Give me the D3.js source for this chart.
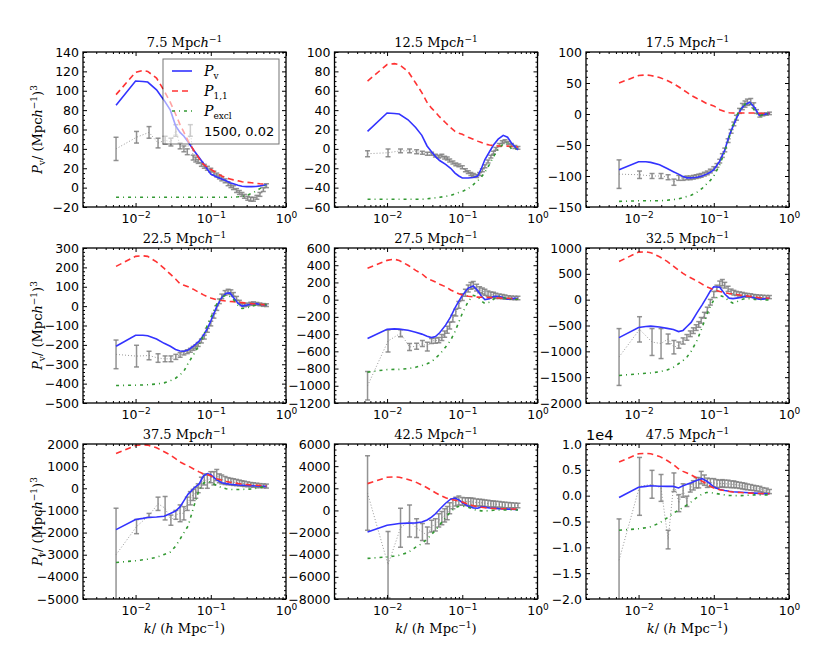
<!DOCTYPE html>
<html><head><meta charset="utf-8">
<script src="https://cdn.jsdelivr.net/npm/d3@7"></script>
<style>body{margin:0;background:#fff}svg{display:block}</style>
</head><body>
<svg id="chart" width="830" height="648"></svg>
<script>
// ---------------- data ----------------
const panelTitles = ["7.5", "12.5", "17.5", "22.5", "27.5", "32.5", "37.5", "42.5", "47.5"];
const xDomain = [0.002, 1];
const xMajorTicks = [0.01, 0.1, 1];
const xTickExponents = ["\u22122", "\u22121", "0"];
const yDomains = [[-20,140],[-60,100],[-150,100],[-500,300],[-1200,600],[-2000,1000],[-5000,2000],[-8000,6000],[-20000,10000]];
const yTicks = [
  [-20,0,20,40,60,80,100,120,140],
  [-60,-40,-20,0,20,40,60,80,100],
  [-150,-100,-50,0,50,100],
  [-500,-400,-300,-200,-100,0,100,200,300],
  [-1200,-1000,-800,-600,-400,-200,0,200,400,600],
  [-2000,-1500,-1000,-500,0,500,1000],
  [-5000,-4000,-3000,-2000,-1000,0,1000,2000],
  [-8000,-6000,-4000,-2000,0,2000,4000,6000],
  [-20000,-15000,-10000,-5000,0,5000,10000]
];
const yMinorDivs = [4,4,5,5,4,5,5,4,5];

const kModel = [0.0055,0.01,0.0125,0.0145,0.019,0.024,0.029,0.034,0.039,0.044,0.05,0.06,0.07,0.08,0.09,0.1,0.12,0.14,0.16,0.18,0.2,0.23,0.26,0.3,0.35,0.4,0.45,0.55];

const pvValues = [
  [85,110,109.5,109,101,90,80,64,57,53,47,38,31,25,19,14,11,9,7,5,4,2.5,1.5,1,1,1.2,1.8,3],
  [18,37,36.5,36,30,22,14,3,-3,-8,-12,-16,-20,-25,-28,-30,-30,-29.5,-28,-20,-11,-3,4,10,14,12,6,-1],
  [-90,-77,-77,-78,-82,-88,-93,-97,-101,-103,-103,-102,-100,-97,-94,-90,-76,-58,-35,-20,-7,8,15,19,10,-2,-1,1],
  [-207,-150,-150,-153,-170,-192,-207,-224,-232,-233,-226,-204,-181,-150,-116,-77,-3,45,66,68,45,15,0,5,12,13,8,5],
  [-452,-343,-339,-342,-355,-378,-400,-425,-440,-428,-385,-296,-199,-95,-18,48,135,158,105,40,0,12,35,40,25,5,12,16],
  [-734,-539,-520,-513,-530,-555,-578,-618,-595,-520,-440,-250,-100,40,167,250,240,110,30,20,30,45,65,60,30,10,10,26],
  [-1867,-1408,-1360,-1316,-1295,-1260,-1140,-1026,-840,-560,-263,14,200,560,665,610,380,250,210,180,165,150,140,125,115,105,95,85],
  [-1948,-1337,-1250,-1184,-1150,-1123,-1050,-860,-605,-300,100,650,1010,1105,956,710,380,230,200,320,300,220,190,160,140,120,100,60],
  [-350,1620,1800,1920,1820,1800,1800,1500,1900,2200,2500,3000,3300,2830,2300,1680,1200,1000,850,750,700,650,600,550,500,450,400,370]
];
const p11Values = [
  [96,119,121,120,113,100,88,76,65,57,48,38,30,24,21,19,15,12,10,9,8,7,6,5.5,5,4.5,4,3.5],
  [70,87,88,87,80,68,58,48,42,38,33,27,22,18,16,15,12,10,8,6.5,5,4,3.5,3,3,2.8,2.5,2],
  [50,62,63,62,59,54,49,44,39,35,30,25,21,17,15,13,7,4,2,1.5,1.5,1.5,1.5,1.5,1.5,1,1,1],
  [205,257,260,257,228,195,165,140,115,108,100,85,70,58,49,42,33,29,26,24,23,20,18,15,13,11,9,6],
  [366,456,470,455,400,340,300,250,225,205,180,150,113,90,68,55,40,33,30,28,27,25,23,20,18,16,13,8],
  [740,920,925,910,830,740,650,570,510,460,420,360,300,250,220,190,160,135,120,110,100,85,75,65,50,40,35,26],
  [1570,1930,1965,1950,1830,1650,1500,1340,1190,1100,1010,860,740,650,620,560,430,360,310,270,250,215,190,170,150,135,125,110],
  [2420,2990,3030,3000,2800,2560,2300,2050,1800,1600,1400,1150,1000,920,860,760,560,420,340,280,240,210,180,160,150,140,130,120],
  [6500,8100,8200,8100,7600,6800,6000,5200,4700,4400,4000,3400,2800,2300,1800,1500,1150,950,800,700,650,600,550,500,450,420,400,370]
];
const pexclValues = [
  [-10,-10,-10,-10,-10,-10,-10,-10,-10,-10,-10,-10,-10,-10,-10,-10,-10,-10,-10,-10,-9.8,-9.5,-9,-8,-6,-3.5,-1,3],
  [-52,-52,-52,-52,-52,-52,-52,-51.5,-51,-50.5,-50,-49,-48,-46.5,-45,-44,-41,-37,-33,-29,-24,-16,-8,0,5,6,0,0],
  [-141,-140,-140,-140,-140,-139,-138,-137,-135,-133,-131,-126,-120,-113,-107,-100,-82,-60,-38,-18,-3,10,16,17,5,-4,-1,1],
  [-410,-408,-407,-406,-402,-396,-385,-372,-355,-335,-295,-245,-200,-152,-98,-59,12,45,57,50,34,5,-12,-10,0,5,7,8],
  [-841,-812,-810,-810,-800,-785,-765,-745,-720,-680,-635,-550,-471,-370,-260,-160,-20,50,36,-15,-45,-30,5,40,25,10,5,4],
  [-1468,-1435,-1425,-1418,-1395,-1360,-1310,-1240,-1180,-1110,-1000,-786,-540,-300,-130,-6,80,50,-30,-65,-45,0,20,20,5,0,-3,-6],
  [-3349,-3273,-3230,-3200,-3120,-2990,-2880,-2620,-2300,-2000,-1700,-780,-60,230,318,270,120,30,-20,-50,-60,-55,-50,-40,-30,0,40,90],
  [-4333,-4200,-4120,-4050,-3800,-3320,-2990,-2600,-2160,-1800,-1300,-634,-115,230,370,390,290,100,0,-40,-50,-20,20,40,40,40,40,40],
  [-6700,-6400,-6200,-6000,-5300,-4300,-3400,-2800,-2300,-1800,-1200,-300,300,600,600,500,300,150,50,0,0,0,50,100,150,150,150,150]
];

const kData = [0.0055,0.0103,0.0151,0.0199,0.0247,0.0295,0.0343,0.0391,0.0439,0.0487,0.0535,0.0583,0.0631,0.068,0.075,0.082,0.09,0.1,0.11,0.12,0.13,0.14,0.155,0.17,0.185,0.2,0.22,0.24,0.26,0.28,0.31,0.34,0.37,0.41,0.45,0.5,0.55];
const dataValues = [
  [40,52,57,46,49,47,59,43,40,37,59,31,29,27,24,22,20,18,15,13,11,9,7,4,2,0,-3,-5,-7,-9,-11,-12,-12,-10,-7,-2,2],
  [-5,-4,-2,-2,-3,-4,-5,-5,-7,-8,-7,-9,-10,-12,-14,-16,-17,-19,-22,-24,-26,-27,-28,-26,-22,-18,-13,-8,-4,0,4,7,8,6,4,2,1],
  [-97,-98,-100,-100,-102,-110,-103,-104,-103,-103,-102,-101,-100,-99,-97,-95,-92,-88,-83,-76,-67,-58,-43,-28,-16,-6,5,12,16,19,20,14,4,-2,-1,0,1],
  [-249,-258,-255,-268,-272,-272,-262,-252,-242,-235,-228,-218,-210,-198,-180,-160,-125,-90,-50,-10,25,50,68,75,72,60,40,22,10,5,8,12,14,12,9,6,5],
  [-1000,-480,-390,-550,-540,-510,-545,-480,-475,-470,-440,-400,-350,-300,-220,-150,-60,30,80,130,160,170,140,115,100,85,70,60,55,45,40,35,30,25,22,20,20],
  [-1110,-575,-820,-850,-760,-920,-880,-800,-730,-660,-600,-540,-480,-400,-300,-200,-50,100,220,300,330,280,210,160,135,120,110,100,90,85,80,70,65,60,55,50,50],
  [-3000,-1730,-1225,-700,-900,-1440,-1200,-1130,-1130,-700,-450,-300,-200,0,250,400,300,500,450,600,450,400,350,320,300,280,260,240,220,200,180,160,150,130,120,110,100],
  [1570,-4900,-1570,-950,-1600,-1950,-2250,-1415,-1300,-900,-700,-450,-250,200,600,800,900,820,800,800,780,750,720,700,680,650,620,600,580,560,540,520,500,480,470,460,450],
  [-12500,1800,2200,1500,-8500,2600,-1450,1000,-1100,1500,2000,2500,2500,3500,3000,2500,2500,2500,2300,2300,2400,2300,2300,2200,2200,2100,2000,1900,1800,1700,1600,1500,1400,1300,1100,1000,800]
];
const dataErrors = [
  [12,6,6,5,4,4,6,3,3,3,6,2.5,2.5,2,2,2,2,2,2,2,2,2,2,2,2,2,2,2,2,2,2,2,2,2,2,2,2],
  [3,4,2,2,2,1.5,1.5,1.5,1.5,1.5,1.5,1.5,1.5,1.5,1.5,1.5,1.5,1.5,1.5,1.5,1.5,1.5,1.5,1.5,1.5,1.5,1.5,1.5,1.5,1.5,1.5,1.5,1.5,1.5,1.5,1.5,1.5],
  [23,6,4,4,4,5,4,3,3,3,3,3,3,3,3,3,3,3,3,3,3,3,3,3,3,4,4,5,5,5,5,4,3,3,2,2,2],
  [74,56,22,22,15,15,13,12,10,10,10,10,10,10,10,10,10,12,12,12,12,12,12,12,12,10,10,8,8,8,8,8,8,7,7,7,7],
  [165,127,40,40,35,35,50,30,30,30,35,35,40,40,40,40,40,40,40,40,40,40,40,35,35,35,30,30,30,30,25,25,25,20,20,20,20],
  [550,245,260,290,95,130,60,60,55,55,55,55,55,55,55,55,55,60,60,60,60,55,50,45,45,40,40,40,35,35,35,30,30,30,30,30,30],
  [2100,320,90,300,530,230,200,380,300,300,300,250,250,200,250,250,300,250,300,250,200,200,180,160,150,150,140,130,120,120,110,100,100,100,90,90,90],
  [3360,3000,1760,1450,850,765,760,530,550,600,600,600,600,500,450,400,400,350,350,350,350,350,320,300,300,300,300,280,280,270,260,250,250,230,220,210,200],
  [8000,5600,2700,2600,1800,1800,1650,1300,1000,800,900,1000,1000,1200,1000,900,800,800,800,700,700,700,700,650,650,600,600,600,600,550,550,500,500,500,450,450,400]
];
const legendLabels = ["Pv", "P11", "Pexcl", "1500, 0.02"];

// ---------------- layout / style ----------------
const colLeft = [83, 334.5, 586], rowTop = [52, 248, 444], pw = 203, ph = 155;
const sans = "DejaVu Sans, sans-serif", serif = "DejaVu Serif, serif";
const cBlue = "#3333ff", cRed = "#ff3333", cGreen = "#339933", cGray = "#808080";
const svg = d3.select("#chart");

const xMinor = [];
[0.001, 0.01, 0.1].forEach(d => { for (let m = 2; m <= 9; m++) { const v = d * m; if (v >= xDomain[0] && v <= xDomain[1]) xMinor.push(v); } });

function minorTicks(ticks, divs) {
  const out = [], step = (ticks[1] - ticks[0]) / divs;
  for (let i = 0; i < ticks.length - 1; i++) for (let j = 1; j < divs; j++) out.push(ticks[i] + j * step);
  return out;
}
const fmtMinus = v => String(v).replace("-", "\u2212");

panelTitles.forEach((title, i) => {
  const r = Math.floor(i / 3), c = i % 3;
  const g = svg.append("g").attr("transform", `translate(${colLeft[c]},${rowTop[r]})`);
  const x = d3.scaleLog().domain(xDomain).range([0, pw]);
  const y = d3.scaleLinear().domain(yDomains[i]).range([ph, 0]);

  g.append("clipPath").attr("id", "clip" + i).append("rect").attr("width", pw).attr("height", ph);
  const plot = g.append("g").attr("clip-path", `url(#clip${i})`);

  // data (gray dotted + error bars)
  const pts = kData.map((k, j) => ({ k, v: dataValues[i][j], e: dataErrors[i][j] }));
  plot.append("path").datum(pts)
    .attr("d", d3.line().x(d => x(d.k)).y(d => y(d.v)))
    .attr("fill", "none").attr("stroke", "#999").attr("stroke-width", 1).attr("stroke-dasharray", "1,2");
  const eb = plot.append("g").attr("stroke", cGray).attr("stroke-width", 1.5).attr("stroke-opacity", 0.85)
    .selectAll("g").data(pts).join("g");
  eb.append("line").attr("x1", d => x(d.k)).attr("x2", d => x(d.k)).attr("y1", d => y(d.v - d.e)).attr("y2", d => y(d.v + d.e));
  eb.append("line").attr("x1", d => x(d.k) - 2.5).attr("x2", d => x(d.k) + 2.5).attr("y1", d => y(d.v - d.e)).attr("y2", d => y(d.v - d.e));
  eb.append("line").attr("x1", d => x(d.k) - 2.5).attr("x2", d => x(d.k) + 2.5).attr("y1", d => y(d.v + d.e)).attr("y2", d => y(d.v + d.e));

  const line = d3.line().x((d, j) => x(kModel[j])).y(d => y(d));
  plot.append("path").datum(pvValues[i]).attr("d", line).attr("fill", "none").attr("stroke", cBlue).attr("stroke-width", 1.6);
  plot.append("path").datum(p11Values[i]).attr("d", line).attr("fill", "none").attr("stroke", cRed).attr("stroke-width", 1.6).attr("stroke-dasharray", "6,4");
  plot.append("path").datum(pexclValues[i]).attr("d", line).attr("fill", "none").attr("stroke", cGreen).attr("stroke-width", 1.6).attr("stroke-dasharray", "3,4,1,4");

  // axes (inward ticks on all sides)
  const styleAxis = sel => { sel.select(".domain").remove(); sel.attr("font-family", sans).attr("font-size", 12.5); sel.selectAll("line").attr("stroke", "#000"); };
  const yMin = minorTicks(yTicks[i], yMinorDivs[i]);
  const yFmt = i === 8 ? (d => fmtMinus((d / 1e4).toFixed(1))) : (d => fmtMinus(d));

  const bx = g.append("g").attr("transform", `translate(0,${ph})`)
    .call(d3.axisBottom(x).tickValues(xMajorTicks).tickSize(-4).tickPadding(7).tickFormat(() => ""));
  styleAxis(bx);
  bx.selectAll(".tick text").each(function (d, j) {
    const t = d3.select(this).attr("fill", "#000");
    t.append("tspan").text("10");
    t.append("tspan").attr("dy", -5).attr("font-size", 9).text(xTickExponents[j]);
  });
  g.append("g").attr("transform", `translate(0,${ph})`).call(d3.axisBottom(x).tickValues(xMinor).tickSize(-2).tickFormat(() => "")).call(styleAxis);
  g.append("g").call(d3.axisTop(x).tickValues(xMajorTicks).tickSize(-4).tickFormat(() => "")).call(styleAxis);
  g.append("g").call(d3.axisTop(x).tickValues(xMinor).tickSize(-2).tickFormat(() => "")).call(styleAxis);

  const ly = g.append("g").call(d3.axisLeft(y).tickValues(yTicks[i]).tickSize(-4).tickPadding(4).tickFormat(yFmt));
  styleAxis(ly); ly.selectAll("text").attr("fill", "#000");
  g.append("g").call(d3.axisLeft(y).tickValues(yMin).tickSize(-2).tickFormat(() => "")).call(styleAxis);
  g.append("g").attr("transform", `translate(${pw},0)`).call(d3.axisRight(y).tickValues(yTicks[i]).tickSize(-4).tickFormat(() => "")).call(styleAxis);
  g.append("g").attr("transform", `translate(${pw},0)`).call(d3.axisRight(y).tickValues(yMin).tickSize(-2).tickFormat(() => "")).call(styleAxis);

  g.append("rect").attr("width", pw).attr("height", ph).attr("fill", "none").attr("stroke", "#000").attr("stroke-width", 1.3);

  // title
  const tt = g.append("text").attr("x", pw / 2).attr("y", -5).attr("text-anchor", "middle")
    .attr("font-family", serif).attr("font-size", 13);
  tt.append("tspan").text(title + " Mpc");
  tt.append("tspan").attr("font-style", "italic").text("h");
  tt.append("tspan").attr("dy", -5).attr("font-size", 9).text("\u22121");

  if (i === 8) {
    g.append("text").attr("x", 0).attr("y", -4).attr("font-family", sans).attr("font-size", 14.5).text("1e4");
  }

  if (c === 0) {
    const yl = svg.append("text").attr("transform", `translate(42,${rowTop[r] + ph / 2}) rotate(-90)`)
      .attr("text-anchor", "middle").attr("font-family", serif).attr("font-size", 13);
    yl.append("tspan").attr("font-style", "italic").text("P");
    yl.append("tspan").attr("dy", 3).attr("font-size", 9).text("v");
    yl.append("tspan").attr("dy", -3).text("/ (Mpc");
    yl.append("tspan").attr("font-style", "italic").text("h");
    yl.append("tspan").attr("dy", -5).attr("font-size", 9).text("\u22121");
    yl.append("tspan").attr("dy", 5).text(")");
    yl.append("tspan").attr("dy", -5).attr("font-size", 9).text("3");
  }
  if (r === 2) {
    const xl = g.append("text").attr("x", pw / 2).attr("y", ph + 34).attr("text-anchor", "middle")
      .attr("font-family", serif).attr("font-size", 13);
    xl.append("tspan").attr("font-style", "italic").text("k");
    xl.append("tspan").text("/ (");
    xl.append("tspan").attr("font-style", "italic").text("h");
    xl.append("tspan").text(" Mpc");
    xl.append("tspan").attr("dy", -5).attr("font-size", 9).text("\u22121");
    xl.append("tspan").attr("dy", 5).text(")");
  }

  if (i === 0) {
    const lg = g.append("g").attr("transform", "translate(80,7)");
    lg.append("rect").attr("width", 116).attr("height", 85).attr("fill", "#fff").attr("fill-opacity", 0.55)
      .attr("stroke", "#000").attr("stroke-opacity", 0.55).attr("stroke-width", 1);
    const rows = [12, 32, 52, 72];
    const styles = [[cBlue, null], [cRed, "6,4"], [cGreen, "3,4,1,4"]];
    styles.forEach((s, j) => {
      lg.append("line").attr("x1", 9).attr("x2", 29).attr("y1", rows[j]).attr("y2", rows[j])
        .attr("stroke", s[0]).attr("stroke-width", 1.6).attr("stroke-dasharray", s[1]);
    });
    const subs = ["v", "1,1", "excl"];
    subs.forEach((s, j) => {
      const t = lg.append("text").attr("x", 41).attr("y", rows[j] + 5).attr("font-family", serif).attr("font-size", 14);
      t.append("tspan").attr("font-style", "italic").text("P");
      t.append("tspan").attr("dy", 3).attr("font-size", 9).text(s);
    });
    lg.append("text").attr("x", 41).attr("y", rows[3] + 5).attr("font-family", sans).attr("font-size", 13).text(legendLabels[3]);
  }
});
</script>
</body></html>
